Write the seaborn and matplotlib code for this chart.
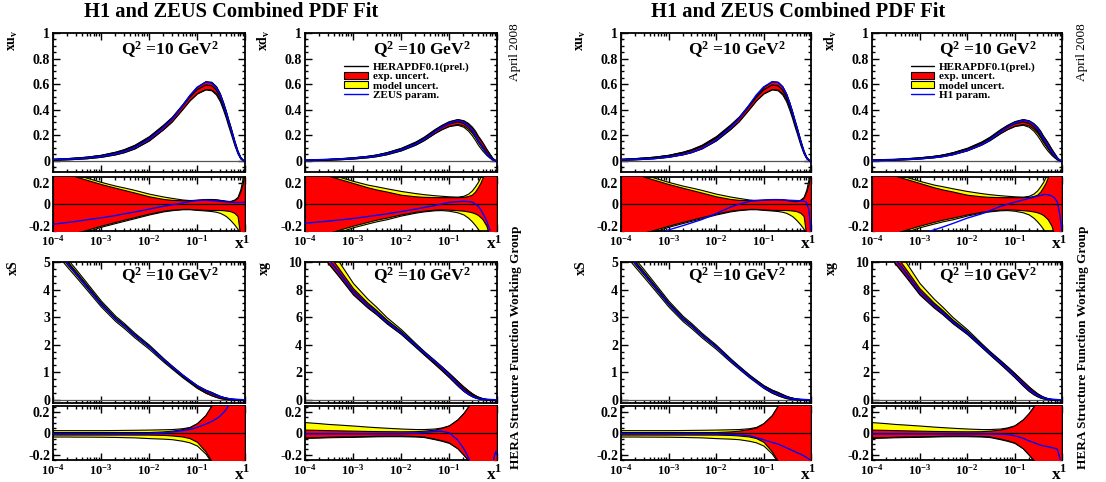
import numpy as np
import matplotlib
matplotlib.use("Agg")
import matplotlib.pyplot as plt
import seaborn as sns
from matplotlib.lines import Line2D
from matplotlib.patches import Patch
from matplotlib.ticker import MultipleLocator, LogLocator, FuncFormatter, NullFormatter, FixedLocator

# ---------------- data ----------------
x_grid = [1e-4, 2e-4, 3e-4, 5e-4, 1e-3, 2e-3, 3e-3, 5e-3, 1e-2, 2e-2, 3e-2, 5e-2, 0.07, 0.1,
          0.15, 0.2, 0.25, 0.3, 0.35, 0.4, 0.45, 0.5, 0.6, 0.7, 0.8, 0.9, 0.95, 0.99]

# central HERAPDF0.1 values at Q2 = 10 GeV^2
xuv_central = [0.010, 0.015, 0.019, 0.025, 0.038, 0.060, 0.078, 0.110, 0.175, 0.265, 0.325, 0.425, 0.495, 0.555,
               0.592, 0.588, 0.556, 0.505, 0.44, 0.375, 0.31, 0.255, 0.150, 0.072, 0.025, 0.005, 0.001, 0.0]
xdv_central = [0.005, 0.008, 0.010, 0.014, 0.021, 0.032, 0.041, 0.058, 0.090, 0.136, 0.172, 0.228, 0.260, 0.288,
               0.304, 0.293, 0.268, 0.236, 0.200, 0.162, 0.135, 0.110, 0.068, 0.038, 0.015, 0.004, 0.001, 0.0]
xS_central = [5.6, 4.96, 4.6, 4.13, 3.49, 2.95, 2.7, 2.35, 1.93, 1.45, 1.19, 0.87, 0.68, 0.48,
              0.31, 0.22, 0.15, 0.10, 0.07, 0.05, 0.035, 0.025, 0.012, 0.005, 0.002, 0.0005, 0.0001, 0.0]
xg_central = [12.5, 11.3, 10.3, 9.3, 7.9, 6.9, 6.4, 5.7, 4.9, 3.95, 3.4, 2.75, 2.3, 1.8,
              1.2, 0.8, 0.54, 0.36, 0.24, 0.16, 0.11, 0.07, 0.03, 0.012, 0.004, 0.001, 0.0002, 0.0]

# relative experimental (exp) and total (model) uncertainties
xuv_exp_up = [0.34, 0.29, 0.26, 0.23, 0.19, 0.155, 0.135, 0.11, 0.075, 0.05, 0.042, 0.038, 0.038, 0.042,
              0.048, 0.048, 0.045, 0.04, 0.036, 0.032, 0.03, 0.03, 0.04, 0.06, 0.12, 0.2, 0.28, 0.4]
xuv_tot_up = [0.36, 0.31, 0.28, 0.25, 0.21, 0.175, 0.158, 0.135, 0.10, 0.073, 0.06, 0.045, 0.04, 0.043,
              0.05, 0.05, 0.047, 0.042, 0.038, 0.034, 0.032, 0.032, 0.045, 0.07, 0.14, 0.25, 0.32, 0.45]
xuv_exp_dn = [-0.34, -0.29, -0.265, -0.24, -0.2, -0.165, -0.145, -0.12, -0.087, -0.06, -0.05, -0.043, -0.043, -0.048,
              -0.052, -0.053, -0.053, -0.053, -0.055, -0.058, -0.061, -0.065, -0.08, -0.11, -0.3, -0.45, -0.5, -0.6]
xuv_tot_dn = [-0.36, -0.31, -0.28, -0.255, -0.21, -0.175, -0.155, -0.13, -0.095, -0.066, -0.055, -0.046, -0.046, -0.052,
              -0.058, -0.063, -0.07, -0.08, -0.095, -0.11, -0.13, -0.15, -0.19, -0.23, -0.3, -0.45, -0.5, -0.6]

xdv_exp_up = [0.36, 0.3, 0.27, 0.24, 0.2, 0.16, 0.14, 0.12, 0.09, 0.075, 0.07, 0.067, 0.067, 0.067,
              0.067, 0.07, 0.078, 0.09, 0.12, 0.16, 0.2, 0.25, 0.33, 0.4, 0.45, 0.5, 0.55, 0.6]
xdv_tot_up = [0.38, 0.32, 0.29, 0.26, 0.22, 0.185, 0.17, 0.15, 0.125, 0.105, 0.095, 0.085, 0.08, 0.075,
              0.072, 0.08, 0.1, 0.13, 0.17, 0.21, 0.255, 0.3, 0.36, 0.42, 0.47, 0.52, 0.56, 0.6]
xdv_exp_dn = [-0.36, -0.3, -0.27, -0.24, -0.2, -0.165, -0.145, -0.125, -0.095, -0.07, -0.06, -0.05, -0.047, -0.05,
              -0.055, -0.06, -0.067, -0.075, -0.086, -0.1, -0.12, -0.14, -0.2, -0.3, -0.4, -0.5, -0.55, -0.6]
xdv_tot_dn = [-0.38, -0.32, -0.29, -0.26, -0.215, -0.18, -0.16, -0.14, -0.105, -0.078, -0.066, -0.056, -0.054, -0.06,
              -0.075, -0.095, -0.125, -0.16, -0.195, -0.23, -0.265, -0.3, -0.35, -0.4, -0.45, -0.5, -0.55, -0.6]

xS_exp_up = [0.012, 0.012, 0.012, 0.012, 0.012, 0.012, 0.012, 0.012, 0.012, 0.018, 0.025, 0.04, 0.055, 0.095,
             0.17, 0.26, 0.33, 0.4, 0.45, 0.5, 0.55, 0.6, 0.7, 0.8, 0.9, 1.0, 1.0, 1.0]
xS_tot_up = [0.03, 0.03, 0.03, 0.03, 0.03, 0.031, 0.032, 0.033, 0.035, 0.038, 0.04, 0.048, 0.06, 0.095,
             0.17, 0.26, 0.33, 0.4, 0.45, 0.5, 0.55, 0.6, 0.7, 0.8, 0.9, 1.0, 1.0, 1.0]
xS_exp_dn = [-0.012, -0.012, -0.012, -0.012, -0.012, -0.012, -0.012, -0.012, -0.012, -0.015, -0.02, -0.03, -0.045, -0.08,
             -0.17, -0.26, -0.33, -0.4, -0.45, -0.5, -0.55, -0.6, -0.7, -0.8, -0.9, -1.0, -1.0, -1.0]
xS_tot_dn = [-0.03, -0.03, -0.031, -0.031, -0.032, -0.034, -0.036, -0.038, -0.045, -0.05, -0.055, -0.07, -0.085, -0.115,
             -0.19, -0.27, -0.33, -0.4, -0.45, -0.5, -0.55, -0.6, -0.7, -0.8, -0.9, -1.0, -1.0, -1.0]

xg_exp_up = [0.035, 0.032, 0.03, 0.028, 0.025, 0.022, 0.021, 0.02, 0.019, 0.02, 0.025, 0.035, 0.05, 0.073,
             0.13, 0.19, 0.25, 0.3, 0.35, 0.4, 0.45, 0.5, 0.6, 0.7, 0.8, 0.9, 1.0, 1.0]
xg_tot_up = [0.105, 0.095, 0.088, 0.082, 0.073, 0.063, 0.058, 0.052, 0.045, 0.04, 0.04, 0.045, 0.055, 0.075,
             0.13, 0.19, 0.25, 0.3, 0.35, 0.4, 0.45, 0.5, 0.6, 0.7, 0.8, 0.9, 1.0, 1.0]
xg_exp_dn = [-0.038, -0.035, -0.032, -0.03, -0.028, -0.025, -0.023, -0.022, -0.022, -0.025, -0.03, -0.05, -0.065, -0.086,
             -0.14, -0.2, -0.25, -0.3, -0.35, -0.4, -0.45, -0.5, -0.6, -0.7, -0.8, -0.9, -1.0, -1.0]
xg_tot_dn = [-0.043, -0.04, -0.037, -0.035, -0.033, -0.03, -0.028, -0.027, -0.027, -0.03, -0.035, -0.055, -0.07, -0.09,
             -0.14, -0.2, -0.25, -0.3, -0.35, -0.4, -0.45, -0.5, -0.6, -0.7, -0.8, -0.9, -1.0, -1.0]

# relative deviation of the alternative parametrisations (blue)
xuv_zeus = [-0.187, -0.17, -0.16, -0.145, -0.127, -0.105, -0.09, -0.072, -0.045, -0.018, -0.005, 0.012, 0.025, 0.035,
            0.038, 0.035, 0.032, 0.028, 0.025, 0.023, 0.021, 0.02, 0.018, 0.017, 0.017, 0.017, 0.02, 0.025]
xuv_h1 = [-0.4, -0.35, -0.33, -0.3, -0.24, -0.2, -0.175, -0.143, -0.087, -0.027, 0.0, 0.027, 0.037, 0.04,
          0.043, 0.043, 0.042, 0.04, 0.038, 0.037, 0.036, 0.035, 0.033, 0.03, 0.02, -0.05, -0.15, -0.3]
xdv_zeus = [-0.177, -0.165, -0.158, -0.148, -0.133, -0.115, -0.104, -0.09, -0.068, -0.045, -0.03, -0.012, 0.003, 0.018,
            0.025, 0.028, 0.026, 0.022, 0.005, -0.015, -0.045, -0.08, -0.15, -0.23, -0.32, -0.4, -0.45, -0.5]
xdv_h1 = [-0.45, -0.4, -0.37, -0.33, -0.28, -0.24, -0.215, -0.18, -0.13, -0.09, -0.06, -0.02, 0.0, 0.02,
          0.04, 0.055, 0.065, 0.075, 0.083, 0.09, 0.092, 0.09, 0.08, 0.06, 0.02, -0.1, -0.18, -0.26]
xS_zeus = [-0.005, -0.005, -0.005, -0.005, -0.005, -0.005, -0.005, -0.005, -0.005, 0.005, 0.012, 0.025, 0.035, 0.055,
           0.085, 0.11, 0.135, 0.16, 0.19, 0.22, 0.26, 0.3, 0.36, 0.42, 0.48, 0.55, 0.6, 0.65]
xS_h1 = [-0.003, -0.003, -0.003, -0.003, -0.003, -0.004, -0.004, -0.004, -0.005, -0.01, -0.015, -0.022, -0.04, -0.06,
         -0.085, -0.1, -0.118, -0.135, -0.148, -0.16, -0.17, -0.18, -0.195, -0.21, -0.225, -0.24, -0.25, -0.26]
xg_zeus = [-0.005, -0.005, -0.005, -0.005, -0.005, -0.005, -0.005, -0.005, -0.004, 0.0, 0.008, 0.018, 0.02, 0.005,
           -0.06, -0.14, -0.22, -0.3, -0.35, -0.4, -0.45, -0.5, -0.5, -0.45, -0.3, -0.2, -0.17, -0.2]
xg_h1 = [-0.006, -0.006, -0.006, -0.006, -0.006, -0.006, -0.006, -0.006, -0.006, -0.006, -0.006, -0.008, -0.012, -0.022,
         -0.045, -0.07, -0.085, -0.1, -0.11, -0.117, -0.121, -0.125, -0.133, -0.14, -0.15, -0.23, -0.3, -0.35]

xtick_values = [1e-4, 1e-3, 1e-2, 1e-1, 1]
xtick_labels = ["10$^{-4}$", "10$^{-3}$", "10$^{-2}$", "10$^{-1}$", "1"]
legend_labels_left = ["HERAPDF0.1(prel.)", "exp. uncert.", "model uncert.", "ZEUS param."]
legend_labels_right = ["HERAPDF0.1(prel.)", "exp. uncert.", "model uncert.", "H1 param."]
title_text = "H1 and ZEUS Combined PDF Fit"

# ---------------- style ----------------
sns.set_theme(style="ticks")
plt.rcParams.update({
    "font.family": ["Liberation Serif", "DejaVu Serif"],
    "font.weight": "bold",
    "mathtext.fontset": "custom",
    "mathtext.rm": "Liberation Serif:bold",
    "mathtext.it": "Liberation Serif:bold",
    "mathtext.bf": "Liberation Serif:bold",
    "mathtext.default": "rm",
    "axes.linewidth": 1.2,
    "axes.edgecolor": "black",
    "text.color": "black",
})

W, H = 1106, 482
fig = plt.figure(figsize=(W / 100, H / 100), dpi=100)
fig.patch.set_facecolor("white")


def rect(x0, x1, y0, y1):
    return [x0 / W, 1 - y1 / H, (x1 - x0) / W, (y1 - y0) / H]


cols = [(53, 245), (305, 497), (621, 811), (872, 1062)]
rows_main = [(33, 172), (262, 403)]
rows_ratio = [(177, 231), (406, 460)]

pdfs = {
    "uv": dict(c=xuv_central, eu=xuv_exp_up, tu=xuv_tot_up, ed=xuv_exp_dn, td=xuv_tot_dn,
               ylab="xu$_{v}$", ylim=(-0.089, 1.0), maj=0.2, mnr=0.05),
    "dv": dict(c=xdv_central, eu=xdv_exp_up, tu=xdv_tot_up, ed=xdv_exp_dn, td=xdv_tot_dn,
               ylab="xd$_{v}$", ylim=(-0.089, 1.0), maj=0.2, mnr=0.05),
    "S": dict(c=xS_central, eu=xS_exp_up, tu=xS_tot_up, ed=xS_exp_dn, td=xS_tot_dn,
              ylab="xS", ylim=(-0.12, 5.0), maj=1, mnr=0.25),
    "g": dict(c=xg_central, eu=xg_exp_up, tu=xg_tot_up, ed=xg_exp_dn, td=xg_tot_dn,
              ylab="xg", ylim=(-0.24, 10.0), maj=2, mnr=0.5),
}
blues = {(0, "uv"): xuv_zeus, (1, "dv"): xdv_zeus, (0, "S"): xS_zeus, (1, "g"): xg_zeus,
         (2, "uv"): xuv_h1, (3, "dv"): xdv_h1, (2, "S"): xS_h1, (3, "g"): xg_h1}
layout = {0: ("uv", "S"), 1: ("dv", "g"), 2: ("uv", "S"), 3: ("dv", "g")}

fmt_g = FuncFormatter(lambda v, p: ("%g" % round(v, 6)))


def style_axis(ax, show_x):
    ax.set_xscale("log")
    ax.set_xlim(1e-4, 1)
    ax.xaxis.set_major_locator(FixedLocator(xtick_values))
    ax.xaxis.set_minor_locator(LogLocator(base=10, subs=np.arange(2, 10), numticks=20))
    ax.xaxis.set_minor_formatter(NullFormatter())
    if show_x:
        ax.set_xticklabels(xtick_labels)
    else:
        ax.set_xticklabels([])
    ax.tick_params(which="both", direction="in", top=True, right=True, width=1.0, colors="black")
    ax.tick_params(which="major", length=5, labelsize=10, pad=2)
    ax.tick_params(which="minor", length=2.5)
    ax.tick_params(axis="x", which="major", labelsize=9, pad=2.5)
    ax.set_xlabel("")
    ax.set_ylabel("")
    for s in ax.spines.values():
        s.set_linewidth(1.3)
        s.set_color("black")
    for lab in ax.get_xticklabels() + ax.get_yticklabels():
        lab.set_fontweight("bold")


x = np.array(x_grid)
for ci, (x0, x1) in enumerate(cols):
    for ri, key in enumerate(layout[ci]):
        d = pdfs[key]
        c = np.array(d["c"])
        eu, tu = np.array(d["eu"]), np.array(d["tu"])
        ed, td = np.array(d["ed"]), np.array(d["td"])
        blue = np.array(blues[(ci, key)])

        axm = fig.add_axes(rect(x0, x1, *rows_main[ri]))
        axr = fig.add_axes(rect(x0, x1, *rows_ratio[ri]))
        axm.set_xscale("log")
        axr.set_xscale("log")

        # main panel
        axm.fill_between(x, c * (1 + td), c * (1 + tu), facecolor="yellow", edgecolor="black", lw=0.8, zorder=2)
        axm.fill_between(x, c * (1 + ed), c * (1 + eu), facecolor="red", edgecolor="black", lw=0.8, zorder=3)
        axm.axhline(0, color="#555555", lw=0.9, zorder=1)
        sns.lineplot(x=x, y=c, ax=axm, color="black", linewidth=1.0, estimator=None, sort=False, zorder=4)
        sns.lineplot(x=x, y=c * (1 + blue), ax=axm, color="blue", linewidth=1.0, estimator=None, sort=False, zorder=5)
        axm.set_ylim(*d["ylim"])
        axm.yaxis.set_major_locator(MultipleLocator(d["maj"]))
        axm.yaxis.set_minor_locator(MultipleLocator(d["mnr"]))
        axm.yaxis.set_major_formatter(fmt_g)
        style_axis(axm, False)
        qy = 0.88 if ri == 0 else 0.905
        axm.text(0.61, qy, "Q$^{2}$ =10 GeV$^{2}$", transform=axm.transAxes, ha="center", va="center",
                 fontsize=12.5, fontweight="bold")

        # ratio panel
        axr.fill_between(x, td, tu, facecolor="yellow", edgecolor="black", lw=0.8, zorder=2)
        axr.fill_between(x, ed, eu, facecolor="red", edgecolor="black", lw=0.8, zorder=3)
        axr.axhline(0, color="black", lw=0.9, zorder=4)
        sns.lineplot(x=x, y=blue, ax=axr, color="blue", linewidth=1.0, estimator=None, sort=False, zorder=5)
        axr.set_ylim(-0.25, 0.256)
        axr.yaxis.set_major_locator(FixedLocator([-0.2, 0, 0.2]))
        axr.yaxis.set_minor_locator(MultipleLocator(0.05))
        axr.yaxis.set_major_formatter(fmt_g)
        style_axis(axr, True)

        # y label and x label
        ylab_x = x0 - 40 if ci in (0, 2) else x0 - 41
        ylab_y = 40 if ri == 0 else 268
        fig.text(ylab_x / W, 1 - ylab_y / H, d["ylab"], rotation=90, ha="center", va="center",
                 fontsize=10, fontweight="bold")
        xl_y = 244 if ri == 0 else 475
        fig.text((x1 - 6) / W, 1 - xl_y / H, "x", ha="center", va="center", fontsize=12.5, fontweight="bold")

        if key == "dv":
            labels = legend_labels_left if ci == 1 else legend_labels_right
            handles = [Line2D([], [], color="black", lw=1.0),
                       Patch(facecolor="red", edgecolor="black", lw=0.8),
                       Patch(facecolor="yellow", edgecolor="black", lw=0.8),
                       Line2D([], [], color="blue", lw=1.0)]
            leg = axm.legend(handles, labels, loc="upper left", bbox_to_anchor=(0.205, 0.79),
                             frameon=False, fontsize=8, labelspacing=0.0, handlelength=2.1,
                             handleheight=0.6, handletextpad=0.45, borderpad=0, borderaxespad=0)
            for t in leg.get_texts():
                t.set_fontweight("bold")

# titles and side texts
for cx in (231, 798):
    fig.text(cx / W, 1 - 12 / H, title_text, ha="center", va="center", fontsize=14.8, fontweight="bold")
for sx in (515, 1082):
    fig.text(sx / W, 1 - 52 / H, "April 2008", rotation=90, ha="center", va="center",
             fontsize=9.5, fontweight="normal")
    fig.text((sx + 1) / W, 1 - 347 / H, "HERA Structure Function Working Group", rotation=90,
             ha="center", va="center", fontsize=9.5, fontweight="bold")

fig.savefig("out.png", dpi=100, facecolor="white")
